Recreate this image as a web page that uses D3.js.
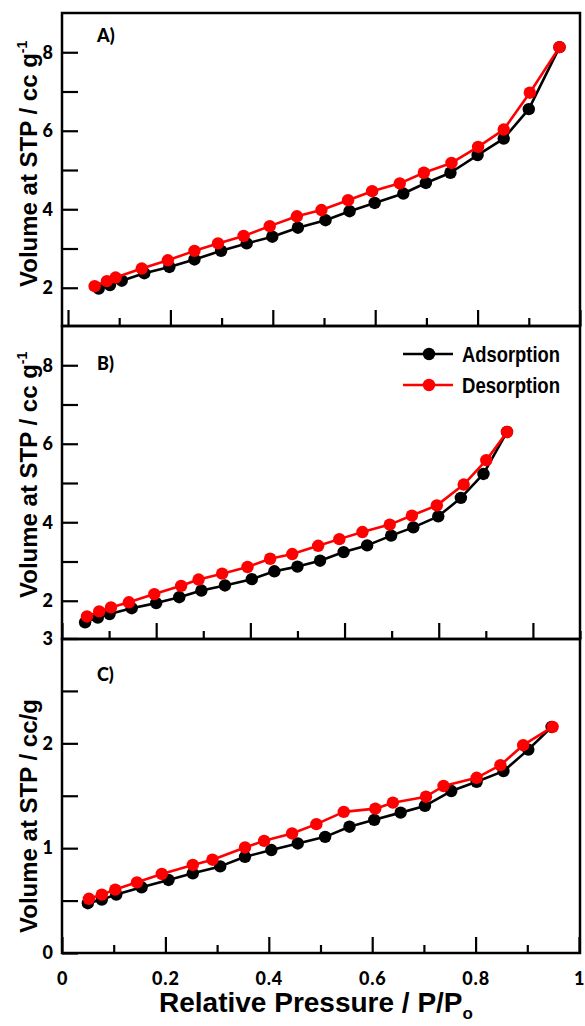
<!DOCTYPE html>
<html>
<head>
<meta charset="utf-8">
<script src="https://cdn.jsdelivr.net/npm/d3@7"></script>
<style>
  body { margin: 0; background: #fff; }
  svg { display: block; }
</style>
</head>
<body>
<svg id="chart" width="585" height="1026"></svg>
<script>
// ---- data ----
const seriesNames = ["Adsorption", "Desorption"];

// Panel A
const aAdsP = [0.060, 0.082, 0.105, 0.149, 0.198, 0.247, 0.299, 0.349, 0.399, 0.449, 0.503, 0.550, 0.599, 0.655, 0.699, 0.747, 0.800, 0.851, 0.900, 0.960];
const aAdsV = [1.98, 2.07, 2.18, 2.37, 2.53, 2.72, 2.94, 3.13, 3.30, 3.53, 3.72, 3.95, 4.16, 4.40, 4.67, 4.93, 5.38, 5.80, 6.55, 8.13];
const aDesP = [0.052, 0.076, 0.093, 0.144, 0.195, 0.247, 0.293, 0.343, 0.394, 0.447, 0.495, 0.547, 0.594, 0.648, 0.695, 0.749, 0.801, 0.851, 0.902, 0.960];
const aDesV = [2.04, 2.17, 2.26, 2.49, 2.70, 2.94, 3.13, 3.32, 3.57, 3.82, 3.98, 4.23, 4.46, 4.66, 4.93, 5.18, 5.59, 6.03, 6.97, 8.13];

// Panel B
const bAdsP = [0.049, 0.076, 0.101, 0.148, 0.200, 0.249, 0.296, 0.346, 0.403, 0.451, 0.500, 0.548, 0.598, 0.648, 0.699, 0.746, 0.799, 0.847, 0.895, 0.945];
const bAdsV = [1.45, 1.57, 1.66, 1.81, 1.94, 2.09, 2.26, 2.39, 2.55, 2.75, 2.87, 3.02, 3.24, 3.41, 3.66, 3.87, 4.15, 4.62, 5.23, 6.30];
const bDesP = [0.053, 0.079, 0.104, 0.142, 0.196, 0.253, 0.290, 0.340, 0.394, 0.442, 0.489, 0.544, 0.589, 0.638, 0.696, 0.743, 0.796, 0.853, 0.901, 0.945];
const bDesV = [1.60, 1.73, 1.83, 1.96, 2.17, 2.38, 2.54, 2.69, 2.86, 3.07, 3.19, 3.40, 3.57, 3.75, 3.94, 4.17, 4.43, 4.96, 5.58, 6.30];

// Panel C
const cAdsP = [0.050, 0.077, 0.105, 0.154, 0.206, 0.253, 0.306, 0.354, 0.405, 0.456, 0.509, 0.556, 0.604, 0.655, 0.702, 0.753, 0.802, 0.854, 0.902, 0.947];
const cAdsV = [0.475, 0.51, 0.557, 0.627, 0.697, 0.76, 0.826, 0.918, 0.982, 1.045, 1.108, 1.205, 1.27, 1.339, 1.403, 1.545, 1.633, 1.735, 1.94, 2.156];
const cDesP = [0.052, 0.077, 0.103, 0.145, 0.193, 0.253, 0.291, 0.354, 0.391, 0.445, 0.492, 0.545, 0.606, 0.640, 0.704, 0.738, 0.802, 0.848, 0.892, 0.949];
const cDesV = [0.517, 0.557, 0.605, 0.674, 0.754, 0.84, 0.89, 1.007, 1.07, 1.14, 1.229, 1.346, 1.377, 1.434, 1.491, 1.593, 1.671, 1.792, 1.982, 2.156];

// Axis ticks
const xTicksAC = [0, 0.1, 0.2, 0.3, 0.4, 0.5, 0.6, 0.7, 0.8, 0.9, 1.0];
const xTicksB = [0, 0.1, 0.2, 0.3, 0.4, 0.5, 0.6, 0.7, 0.8, 0.9, 1.0, 1.1];
const xTickLabels = ["0", "0.2", "0.4", "0.6", "0.8", "1"];
const yTicksAB = [2, 3, 4, 5, 6, 7, 8];
const yLabelsAB = ["2", "4", "6", "8"];
const yTicksC = [0, 0.5, 1, 1.5, 2, 2.5, 3];
const yLabelsC = ["0", "1", "2", "3"];

const panelLabels = ["A)", "B)", "C)"];
const yTitlesAB = "Volume at STP / cc g";
const yTitleC = "Volume at STP / cc/g";

// ---- layout ----
const svg = d3.select("#chart");
const frameL = 62, frameR = 580;
const colors = ["#000000", "#ff0000"];
const tickFont = "Lato, 'Open Sans', sans-serif";
const titleFont = "'Liberation Sans', Arial, sans-serif";

const panels = [
  { label: panelLabels[0], top: 13, bottom: 326,
    x: d3.scaleLinear().domain([0, 1]).range([68, 580]), xTicks: xTicksAC,
    y: d3.scaleLinear().domain([1, 9]).range([327, 13]), yTicks: yTicksAB, yLabels: yLabelsAB,
    series: [[aAdsP, aAdsV], [aDesP, aDesV]], title: yTitlesAB, sup: "-1", titleY: 287, labelY: 42 },
  { label: panelLabels[1], top: 326, bottom: 639,
    x: d3.scaleLinear().domain([0, 1.1]).range([62, 580]), xTicks: xTicksB,
    y: d3.scaleLinear().domain([1, 9]).range([640, 326]), yTicks: yTicksAB, yLabels: yLabelsAB,
    series: [[bAdsP, bAdsV], [bDesP, bDesV]], title: yTitlesAB, sup: "-1", titleY: 598, labelY: 370, legend: true },
  { label: panelLabels[2], top: 639, bottom: 953,
    x: d3.scaleLinear().domain([0, 1]).range([62, 579]), xTicks: xTicksAC,
    y: d3.scaleLinear().domain([0, 3]).range([953, 638.5]), yTicks: yTicksC, yLabels: yLabelsC,
    series: [[cAdsP, cAdsV], [cDesP, cDesV]], title: yTitleC, sup: null, titleY: 933, labelY: 681, xLabels: true }
];

panels.forEach(p => {
  const g = svg.append("g");

  // y axis (ticks pointing inward)
  const yAxis = d3.axisLeft(p.y).tickValues(p.yTicks).tickSize(-16).tickPadding(9)
    .tickFormat(d => p.yLabels.includes(String(d)) ? String(d) : "");
  const ya = g.append("g").attr("transform", `translate(${frameL},0)`).call(yAxis);
  ya.select(".domain").remove();
  ya.selectAll("line").attr("stroke", "#000").attr("stroke-width", 2.2);
  ya.selectAll("text").attr("font-family", tickFont).attr("font-weight", 900)
    .attr("font-size", 18).attr("fill", "#000");

  // x axis: major and minor ticks pointing up
  const isMajor = d => Math.abs(Math.round(d * 10) % 2) === 0;
  const xAxis = d3.axisBottom(p.x).tickValues(p.xTicks)
    .tickSize(-16).tickPadding(19)
    .tickFormat(d => (p.xLabels && xTickLabels.includes(String(+d.toFixed(1)))) ? String(+d.toFixed(1)) : "");
  const xa = g.append("g").attr("transform", `translate(0,${p.bottom})`).call(xAxis);
  xa.select(".domain").remove();
  xa.selectAll(".tick line").attr("stroke", "#000").attr("stroke-width", 2.2)
    .attr("y2", d => isMajor(d) ? -16 : -8);
  xa.selectAll("text").attr("font-family", tickFont).attr("font-weight", 900)
    .attr("font-size", 18).attr("letter-spacing", 0.8).attr("fill", "#000");

  // frame
  g.append("rect").attr("x", frameL).attr("y", p.top)
    .attr("width", frameR - frameL).attr("height", p.bottom - p.top)
    .attr("fill", "none").attr("stroke", "#000").attr("stroke-width", 2.5);

  // series
  p.series.forEach((s, i) => {
    const pts = s[0].map((v, k) => [v, s[1][k]]);
    const line = d3.line().x(d => p.x(d[0])).y(d => p.y(d[1]));
    g.append("path").datum(pts).attr("d", line)
      .attr("fill", "none").attr("stroke", colors[i]).attr("stroke-width", 2.6)
      .attr("stroke-linejoin", "round");
    g.selectAll(null).data(pts).enter().append("circle")
      .attr("cx", d => p.x(d[0])).attr("cy", d => p.y(d[1])).attr("r", 6.2)
      .attr("fill", colors[i]);
  });

  // panel label
  g.append("text").attr("x", 97).attr("y", p.labelY).text(p.label)
    .attr("font-family", tickFont).attr("font-weight", 900).attr("font-size", 18);

  // y title
  const t = g.append("text")
    .attr("transform", `translate(37,${p.titleY}) rotate(-90)`)
    .attr("font-family", titleFont).attr("font-weight", 700).attr("font-size", 24)
    .text(p.title);
  if (p.sup) {
    t.append("tspan").attr("dy", -10).attr("font-size", 14).text(p.sup);
  }

  // legend
  if (p.legend) {
    seriesNames.forEach((name, i) => {
      const ly = 354 + i * 31;
      g.append("line").attr("x1", 403).attr("x2", 453).attr("y1", ly).attr("y2", ly)
        .attr("stroke", colors[i]).attr("stroke-width", 2.6);
      g.append("circle").attr("cx", 429).attr("cy", ly).attr("r", 6.2).attr("fill", colors[i]);
      g.append("text").attr("x", 462).attr("y", ly + 8).text(name)
        .attr("font-family", "'Liberation Sans Narrow', 'Arial Narrow', 'Liberation Sans', sans-serif")
        .attr("font-weight", 700).attr("font-size", 22)
        .attr("textLength", 98).attr("lengthAdjust", "spacingAndGlyphs");
    });
  }
});

// x title
const xt = svg.append("text").attr("x", 316).attr("y", 1012).attr("text-anchor", "middle")
  .attr("font-family", titleFont).attr("font-weight", 700).attr("font-size", 28)
  .text("Relative Pressure / P/P");
xt.append("tspan").attr("dy", 7).attr("font-size", 17).text("o");
</script>
</body>
</html>
